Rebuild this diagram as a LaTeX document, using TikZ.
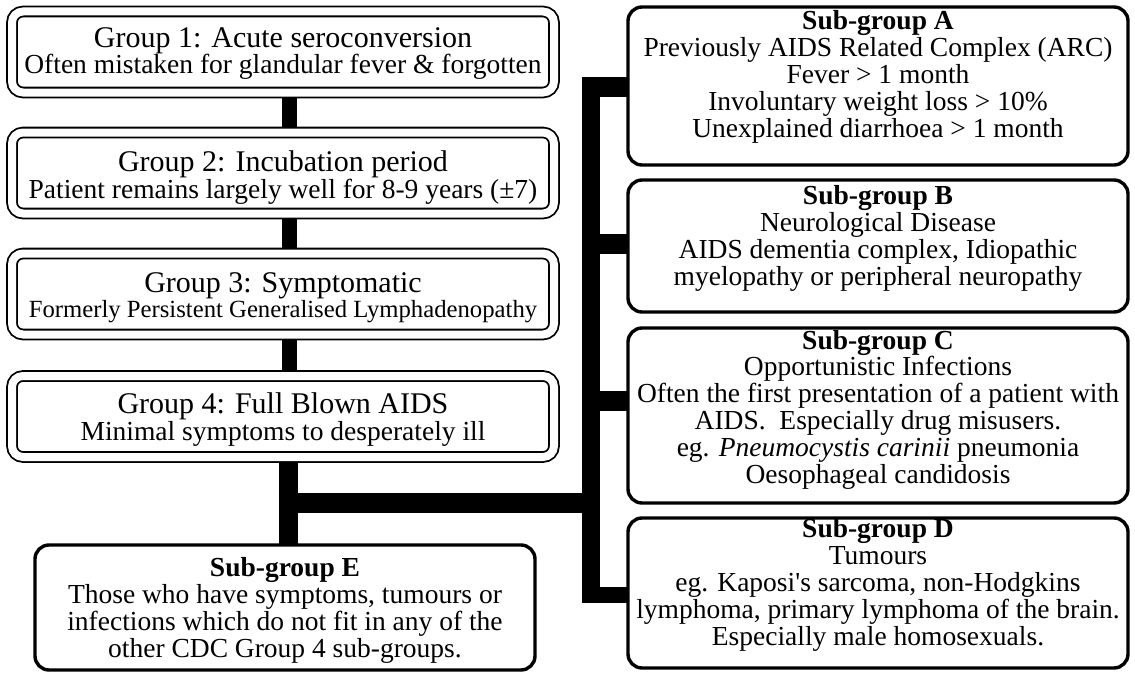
\documentclass[tikz,border=0pt]{standalone}
\usepackage{fontspec}
\setmainfont{Liberation Serif}
\pgfdeclarelayer{back}
\pgfdeclarelayer{bg}
\pgfsetlayers{back,bg,main}
\tikzset{
  grpbox/.style={draw, line width=1.8pt, double=white, double distance=8pt,
    rounded corners=11pt, fill=white, minimum width=542pt, minimum height=81pt,
    inner sep=0pt, outer sep=0pt},
  subbox/.style={draw, line width=3.4pt, rounded corners=14pt, fill=white,
    minimum width=500pt, inner sep=0pt, outer sep=0pt},
  txt/.style={align=center, anchor=base, inner sep=0pt,
    font=\fontsize{27.5}{26.8}\selectfont},
  gtxt/.style={align=center, anchor=base, inner sep=0pt,
    font=\fontsize{27.5}{23.5}\selectfont},
  bar/.style={draw=black, line cap=butt, line width=#1},
}
\newcommand{\gt}{\fontsize{30}{23.5}\selectfont}
\newcommand{\gs}{\fontsize{27.5}{23.5}\selectfont}
\newcommand{\st}{\fontsize{27.5}{26.8}\selectfont\bfseries}
\newcommand{\sn}{\fontsize{27.5}{26.8}\selectfont}
\begin{document}
\begin{tikzpicture}[x=1pt,y=-1pt]
\begin{pgfonlayer}{back}
\fill[white] (0,0) rectangle (1135,677);
\end{pgfonlayer}
\useasboundingbox (0,0) rectangle (1135,677);
% group boxes
\node[grpbox] (g1) at (283,52) {};
\node[grpbox] (g2) at (283,173) {};
\node[grpbox] (g3) at (283,294) {};
\node[grpbox] (g4) at (283,416.5) {};
% text nodes: anchor=base is the baseline of the last line
\node[gtxt] (t1) at (283,74) {\gt Group 1: Acute seroconversion\\\gs Often mistaken for glandular fever \& forgotten};
\node[gtxt] (t2) at (283,198) {\gt Group 2: Incubation period\\\gs Patient remains largely well for 8-9 years (±7)};
\node[gtxt] (t3) at (283,317) {\gt Group 3: Symptomatic\\\fontsize{24.7}{23.5}\selectfont Formerly Persistent Generalised Lymphadenopathy};
\node[gtxt] (t4) at (283,440) {\gt Group 4: Full Blown AIDS\\\gs Minimal symptoms to desperately ill};
% sub-group boxes
\node[subbox, minimum height=158pt] (sa) at (878,86) {};
\node[subbox, minimum height=132pt] (sb) at (878,246) {};
\node[subbox, minimum height=175pt] (sc) at (878,415.5) {};
\node[subbox, minimum height=150pt] (sd) at (878,593) {};
\node[subbox, minimum height=125pt] (se) at (285,607.5) {};
\node[txt] (ta) at (878,137) {\st Sub-group A\\\sn Previously AIDS Related Complex (ARC)\\\sn Fever > 1 month\\\sn Involuntary weight loss > 10\%\\\sn Unexplained diarrhoea > 1 month};
\node[txt] (tb) at (878,285) {\st Sub-group B\\\sn Neurological Disease\\\sn AIDS dementia complex, Idiopathic\\\sn myelopathy or peripheral neuropathy};
\node[txt] (tc) at (878,483) {\st Sub-group C\\\sn Opportunistic Infections\\\sn Often the first presentation of a patient with\\\sn AIDS.~ Especially drug misusers.\\\sn eg. \textit{Pneumocystis carinii} pneumonia\\\sn Oesophageal candidosis};
\node[txt] (td) at (878,645) {\st Sub-group D\\\sn Tumours\\\sn eg. Kaposi\textquotesingle s sarcoma, non-Hodgkins\\\sn lymphoma, primary lymphoma of the brain.\\\sn Especially male homosexuals.};
\node[txt] (te) at (285,657) {\st Sub-group E\\\sn Those who have symptoms, tumours or\\\sn infections which do not fit in any of the\\\sn other CDC Group 4 sub-groups.};
% connectors
\coordinate (cx) at (289,0);
\coordinate (j) at (288,503);
\coordinate (jl) at (278.5,503);
\coordinate (ttop) at (591,77);
\coordinate (tbot) at (591,603);
\coordinate (sA) at (582,87);
\coordinate (sB) at (582,244);
\coordinate (sC) at (582,401);
\coordinate (sD) at (582,595);
\begin{pgfonlayer}{bg}
\draw[bar=15pt] (g1.south -| cx) -- (g2.north -| cx);
\draw[bar=15pt] (g2.south -| cx) -- (g3.north -| cx);
\draw[bar=15pt] (g3.south -| cx) -- (g4.north -| cx);
\draw[bar=19pt] (g4.south -| j) -- (se.north -| j);
\draw[bar=20pt] (jl) -- (jl -| ttop);
\draw[bar=18pt] (ttop) -- (tbot);
\draw[bar=20pt] (sA) -- (sA -| sa.west);
\draw[bar=20pt] (sB) -- (sB -| sb.west);
\draw[bar=20pt] (sC) -- (sC -| sc.west);
\draw[bar=16pt] (sD) -- (sD -| sd.west);
\end{pgfonlayer}
\end{tikzpicture}
\end{document}
